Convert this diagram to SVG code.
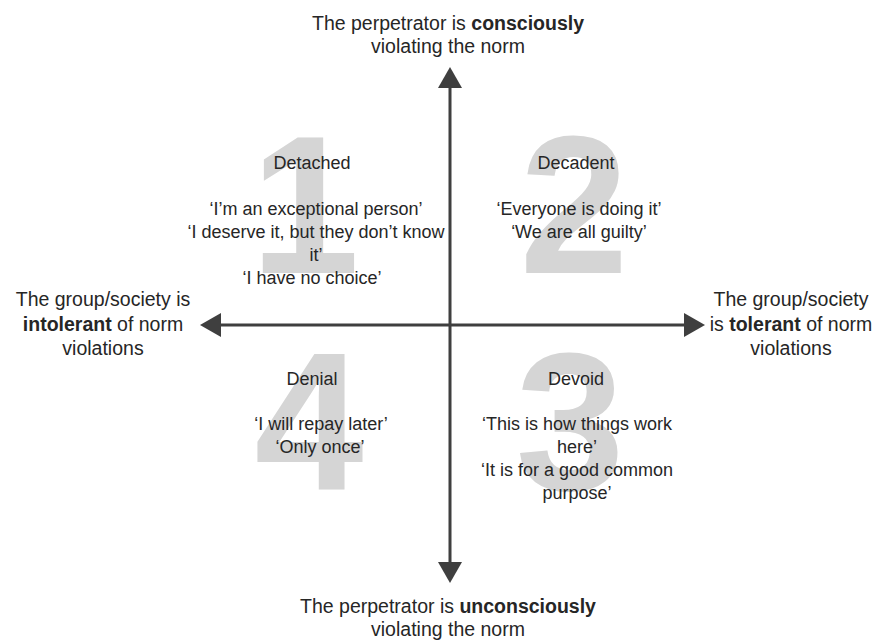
<svg xmlns="http://www.w3.org/2000/svg" width="877" height="641" viewBox="0 0 877 641">
  <style>
    text { font-family: "Liberation Sans", Arial, sans-serif; fill: #262626; text-anchor: middle; }
    .axis-label { font-size: 19.5px; }
    .quad { font-size: 18px; }
    .digit { font-family: "Liberation Sans", Arial, sans-serif; font-weight: bold; font-size: 196px; fill: #d5d5d5; }
    .axis { stroke: #3f3f3f; stroke-width: 3; fill: none; }
    b, .b { font-weight: bold; }
  </style>
  <defs>
    <marker id="head" markerUnits="userSpaceOnUse" markerWidth="21" markerHeight="24" viewBox="0 0 21 24" refX="0" refY="12" orient="auto-start-reverse">
      <path d="M0,0 L21,12 L0,24 z" fill="#3f3f3f"/>
    </marker>
  </defs>
  <rect width="877" height="641" fill="#ffffff"/>

  <!-- large quadrant numerals behind the text -->
  <g id="numerals">
    <text class="digit" x="305" y="273">1</text>
    <text class="digit" x="574" y="273">2</text>
    <text class="digit" x="570" y="490">3</text>
    <text class="digit" x="309" y="490">4</text>
  </g>

  <!-- axes -->
  <g id="connectors">
    <line class="axis" x1="450" y1="88" x2="450" y2="562" marker-start="url(#head)" marker-end="url(#head)"/>
    <line class="axis" x1="221" y1="325" x2="684" y2="325" marker-start="url(#head)" marker-end="url(#head)"/>
  </g>

  <g id="label-top" class="axis-label">
    <text x="448" y="30">The perpetrator is <tspan class="b">consciously</tspan></text>
    <text x="448" y="53">violating the norm</text>
  </g>
  <g id="label-bottom" class="axis-label">
    <text x="448" y="613">The perpetrator is <tspan class="b">unconsciously</tspan></text>
    <text x="448" y="636">violating the norm</text>
  </g>
  <g id="label-left" class="axis-label">
    <text x="103" y="306">The group/society is</text>
    <text x="103" y="331"><tspan class="b">intolerant</tspan> of norm</text>
    <text x="103" y="355">violations</text>
  </g>
  <g id="label-right" class="axis-label">
    <text x="791" y="306">The group/society</text>
    <text x="791" y="331">is <tspan class="b">tolerant</tspan> of norm</text>
    <text x="791" y="355">violations</text>
  </g>

  <g id="quadrant-1" class="quad">
    <text x="312" y="169">Detached</text>
    <text x="316" y="215">‘I’m an exceptional person’</text>
    <text x="316" y="238">‘I deserve it, but they don’t know</text>
    <text x="316" y="261">it’</text>
    <text x="312" y="284">‘I have no choice’</text>
  </g>
  <g id="quadrant-2" class="quad">
    <text x="576" y="169">Decadent</text>
    <text x="579" y="215">‘Everyone is doing it’</text>
    <text x="579" y="238">‘We are all guilty’</text>
  </g>
  <g id="quadrant-3" class="quad">
    <text x="576" y="385">Devoid</text>
    <text x="577" y="430">‘This is how things work</text>
    <text x="577" y="453">here’</text>
    <text x="577" y="476">‘It is for a good common</text>
    <text x="577" y="499">purpose’</text>
  </g>
  <g id="quadrant-4" class="quad">
    <text x="312" y="385">Denial</text>
    <text x="321" y="430">‘I will repay later’</text>
    <text x="320" y="453">‘Only once’</text>
  </g>
</svg>
